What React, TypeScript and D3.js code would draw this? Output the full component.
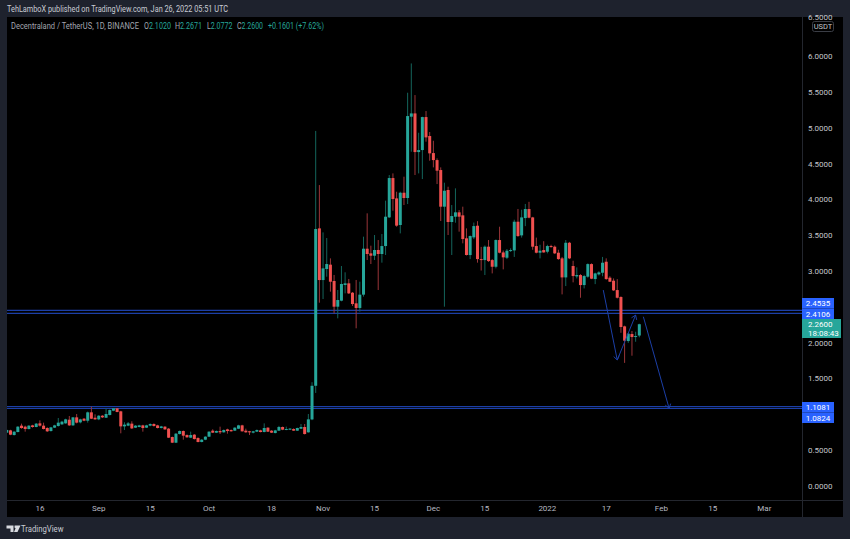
import React from "react";
import * as d3 from "d3";

const opens = [.745,.777,.712,.754,.843,.829,.796,.847,.824,.875,.843,.81,.768,.815,.838,.861,.875,.926,.847,.959,.889,.94,.912,1.029,.954,.931,.982,.954,.992,1.052,1.085,1.043,.833,.843,.871,.815,.824,.847,.815,.843,.866,.847,.81,.829,.801,.684,.605,.726,.768,.712,.675,.717,.67,.615,.647,.689,.773,.745,.768,.75,.791,.782,.773,.80,.847,.773,.764,.745,.759,.777,.754,.815,.773,.74,.773,.824,.782,.787,.796,.773,.80,.824,.75,.93,1.40,
3.599,2.877,3.031,3.092,2.864,2.505,2.589,2.808,2.831,2.70,2.552,2.487,2.673,3.315,3.25,3.217,3.297,3.241,3.352,3.753,4.302,4.018,3.646,4.097,4.023,5.159,5.205,4.665,4.693,5.154,4.889,4.651,4.553,4.414,3.902,4.135,3.688,3.762,3.823,3.781,3.46,
3.226,3.473,3.636,3.17,3.156,3.343,3.156,3.063,3.436,3.263,3.189,3.282,3.291,3.692,3.501,3.743,3.869,3.752,3.352,3.259,3.296,3.273,3.352,3.343,3.259,3.18,2.914,3.398,3.073,2.928,2.947,2.807,2.924,3.10,2.891,2.956,2.979,3.133,2.91,2.868,2.737,2.64,2.23,2.025,2.123,2.081,2.102];
const highs = [.79,.785,.765,.835,.871,.843,.85,.855,.88,.917,.885,.82,.825,.855,.95,.91,.94,.978,.965,1.006,.94,.95,1.04,1.108,1.001,.99,.99,1.085,1.07,1.09,1.09,1.05,.89,.894,.904,.85,.855,.855,.855,.875,.875,.855,.84,.835,.81,.69,.74,.775,.775,.72,.759,.725,.68,.655,.695,.765,.792,.775,.829,.79,.80,.79,.82,.855,.855,.801,.77,.77,.79,.785,.875,.82,.78,.785,.84,.83,.829,.81,.805,.815,.866,.866,1.006,1.45,4.96,
4.204,3.543,3.464,3.18,2.948,2.738,3.073,2.985,2.892,2.71,2.878,2.854,3.483,3.809,3.357,3.506,3.436,3.52,3.986,4.344,4.367,4.111,4.111,4.321,5.494,5.903,5.461,4.935,5.159,5.238,4.945,4.823,4.577,4.451,4.237,4.181,3.925,4.158,3.855,3.902,3.599,
3.50,3.68,3.70,3.34,3.36,3.436,3.17,3.445,3.622,3.29,3.31,3.32,3.72,3.87,3.86,3.94,3.97,3.76,3.47,3.37,3.42,3.37,3.37,3.36,3.30,3.20,3.436,3.41,3.147,3.054,2.96,2.95,3.11,3.11,2.98,3.0,3.20,3.18,2.93,2.90,2.89,2.65,2.24,2.14,2.165,2.155,2.2671];
const lows = [.74,.71,.705,.75,.80,.759,.79,.815,.82,.83,.79,.755,.76,.81,.83,.855,.87,.84,.84,.875,.875,.905,.885,.935,.925,.92,.95,.95,.985,1.045,1.03,.736,.782,.835,.796,.81,.82,.759,.81,.835,.83,.805,.805,.785,.67,.60,.60,.72,.647,.675,.67,.65,.61,.61,.64,.685,.74,.74,.726,.745,.731,.76,.77,.795,.76,.745,.712,.735,.755,.75,.75,.755,.74,.735,.77,.78,.78,.785,.77,.77,.795,.72,.745,.92,1.30,
2.561,2.612,2.924,2.715,2.412,2.342,2.58,2.691,2.682,2.515,2.203,2.436,2.645,3.157,3.101,3.157,2.738,3.12,3.227,3.744,3.846,3.622,3.529,3.925,3.939,4.67,4.344,4.367,4.288,4.81,4.544,4.451,4.218,3.702,2.505,3.506,3.227,3.678,3.553,3.39,3.22,
3.17,3.45,3.12,3.01,2.947,3.13,2.97,3.04,3.25,3.026,3.17,3.27,3.20,3.48,3.47,3.63,3.74,3.30,3.25,3.18,3.26,3.25,3.33,3.24,3.16,2.677,2.793,3.17,2.845,2.90,2.63,2.76,2.91,2.89,2.82,2.94,2.93,2.88,2.85,2.725,2.62,2.14,1.72,2.0,1.82,2.015,2.0772];
const closes = [.782,.717,.759,.829,.81,.796,.843,.824,.871,.843,.796,.764,.819,.847,.885,.899,.931,.847,.959,.885,.931,.912,1.029,.94,.931,.982,.959,1.006,1.061,1.085,1.034,.833,.857,.875,.805,.843,.847,.81,.847,.866,.838,.81,.833,.791,.675,.605,.731,.768,.703,.68,.712,.656,.615,.647,.689,.759,.745,.768,.75,.782,.768,.764,.815,.847,.764,.75,.75,.764,.782,.754,.81,.759,.745,.777,.824,.787,.796,.801,.773,.81,.824,.726,.931,1.40,3.59,
2.877,3.04,3.101,2.854,2.505,2.598,2.822,2.831,2.691,2.542,2.487,2.673,3.315,3.241,3.217,3.297,3.241,3.352,3.762,4.302,4.009,3.637,4.097,4.023,5.168,5.205,4.665,4.693,5.154,4.87,4.647,4.553,4.405,3.902,4.125,3.688,3.771,3.823,3.762,3.45,3.227,
3.492,3.631,3.17,3.166,3.343,3.142,3.063,3.436,3.259,3.194,3.287,3.296,3.692,3.492,3.752,3.869,3.748,3.343,3.259,3.287,3.263,3.352,3.338,3.25,3.17,2.914,3.398,3.18,2.933,2.947,2.807,2.933,3.10,2.896,2.97,2.984,3.119,2.891,2.854,2.733,2.63,2.221,2.03,2.128,2.081,2.095,2.26];

const priceTicks = [0,.5,1.5,2,3,3.5,4,4.5,5,5.5,6];
const timeTickIndex = [9,25,39,55,72,86,100,116,130,147,163,178,192,206];
const timeTickLabels = ["16","Sep","15","Oct","18","Nov","15","Dec","15","2022","17","Feb","15","Mar"];
const levels = [2.4535,2.4106,1.1081,1.0824];
const arrowA = { from:[162.2,2.737], to:[166,1.76] };
const arrowB = { from:[166,1.76], to:[171,2.388] };
const arrowC = { from:[173.1,2.365], to:[180.1,1.085] };

const W = 850, H = 539;
const plot = { l:7, t:17, r:802.5, b:500, frameR:843, frameB:517 };
const x = d3.scaleLinear().domain([0,84]).range([6.8,315.7]);
const y = d3.scaleLinear().domain([0,6]).range([486,56.5]);
const UP = "#26a69a", DOWN = "#f0504f", UPW = "#14655c", DOWNW = "#993539", BLUE = "#1c3fa6", TAG = "#2962ff";
const FONT = "Roboto, 'Liberation Sans', sans-serif";

function Arrow({a}:{a:{from:number[],to:number[]}}) {
  const x1=x(a.from[0]),y1=y(a.from[1]),x2=x(a.to[0]),y2=y(a.to[1]);
  const ang=Math.atan2(y2-y1,x2-x1), L=5, s=0.6;
  const head=d3.line()([[x2-L*Math.cos(ang-s),y2-L*Math.sin(ang-s)],[x2,y2],[x2-L*Math.cos(ang+s),y2-L*Math.sin(ang+s)]]) as string;
  return <g stroke={BLUE} strokeWidth={1} fill="none"><line x1={x1} y1={y1} x2={x2} y2={y2}/><path d={head}/></g>;
}

function Fit({x:tx,y:ty,w,size,fill,children}:{x:number,y:number,w:number,size:number,fill:string,children:React.ReactNode}) {
  return <text x={tx} y={ty} fontSize={size} fill={fill} textLength={w} lengthAdjust="spacingAndGlyphs">{children}</text>;
}

export default function App() {
  return (
    <svg width={W} height={H} style={{position:"fixed",left:0,top:0,display:"block"}} fontFamily={FONT}>
      <rect width={W} height={H} fill="#1e222d"/>
      <rect x={plot.l} y={plot.t} width={plot.frameR-plot.l} height={plot.frameB-plot.t} fill="#000"/>
      <defs><clipPath id="pl"><rect x={plot.l} y={plot.t} width={plot.r-plot.l} height={plot.b-plot.t}/></clipPath></defs>
      <line x1={plot.r} x2={plot.r} y1={plot.t} y2={plot.frameB} stroke="#23262e"/>
      <line x1={plot.l} x2={plot.frameR} y1={plot.b+.5} y2={plot.b+.5} stroke="#23262e"/>
      <g clipPath="url(#pl)">
        {levels.map((v,i)=><line key={i} x1={plot.l} x2={plot.r} y1={y(v)} y2={y(v)} stroke={BLUE} strokeWidth={1.2}/>)}
        {opens.map((o,i)=>{
          const c=closes[i], up=c>=o, cx=x(i), top=y(Math.max(o,c)), bot=y(Math.min(o,c));
          return <g key={i}>
            <line x1={cx} x2={cx} y1={y(highs[i])} y2={y(lows[i])} stroke={up?UPW:DOWNW} strokeWidth={1}/>
            <rect x={cx-1.5} y={top} width={3} height={Math.max(bot-top,1)} fill={up?UP:DOWN}/>
          </g>;
        })}
        <Arrow a={arrowA}/><Arrow a={arrowB}/><Arrow a={arrowC}/>
      </g>
      <g fill="#c4c6cc" fontSize={8}>
        {priceTicks.map(p=><text key={p} x={808} y={y(p)+2.8}>{d3.format(".4f")(p)}</text>)}
      </g>
      <g fill="#b8bac2" fontSize={8} textAnchor="middle">
        {timeTickIndex.map((t,i)=><text key={t} x={x(t)} y={511}>{timeTickLabels[i]}</text>)}
      </g>
      <text x={808} y={20} fill="#c4c6cc" fontSize={8}>6.5000</text>
      <rect x={812.5} y={21.5} width={21} height={10} rx={2} fill="#000" stroke="#3a3d45"/>
      <text x={823} y={29} fill="#c4c6cc" fontSize={7.5} textAnchor="middle">USDT</text>
      {levels.map((v,i)=>{
        const rowY=[298,308.5,402,412.5][i];
        return <g key={i}>
          <rect x={802} y={rowY} width={32} height={10.5} fill={TAG}/>
          <text x={818} y={rowY+8} fill="#fff" fontSize={8} textAnchor="middle">{d3.format(".4f")(v)}</text>
        </g>;
      })}
      <rect x={802} y={319} width={39} height={19} fill={UP}/>
      <text x={808} y={327} fill="#fff" fontSize={8}>2.2600</text>
      <text x={808} y={336} fill="#fff" fontSize={8}>18:08:43</text>
      <Fit x={7} y={12} w={221} size={8.4} fill="#c9ccd4">TehLamboX published on TradingView.com, Jan 26, 2022 05:51 UTC</Fit>
      <Fit x={11} y={28.5} w={128} size={8.2} fill="#a3a6af">Decentraland / TetherUS, 1D, BINANCE</Fit>
      <Fit x={144} y={28.5} w={27} size={8.2} fill={UP}><tspan fill="#a3a6af">O</tspan>2.1020</Fit>
      <Fit x={175} y={28.5} w={27} size={8.2} fill={UP}><tspan fill="#a3a6af">H</tspan>2.2671</Fit>
      <Fit x={207} y={28.5} w={25.5} size={8.2} fill={UP}><tspan fill="#a3a6af">L</tspan>2.0772</Fit>
      <Fit x={237} y={28.5} w={26} size={8.2} fill={UP}><tspan fill="#a3a6af">C</tspan>2.2600</Fit>
      <Fit x={268} y={28.5} w={56} size={8.2} fill={UP}>+0.1601 (+7.62%)</Fit>
      <path d="M6.5 525.5h7v6.5h-3v-3.5h-4zM14.5 525.5h6l-3 6.5h-3.5l1.5-3.5z" fill="#d8dae0"/>
      <circle cx={15.5} cy={527} r={1.1} fill="#d8dae0"/>
      <Fit x={21} y={531.5} w={42.5} size={9} fill="#c9ccd4">TradingView</Fit>
    </svg>
  );
}
